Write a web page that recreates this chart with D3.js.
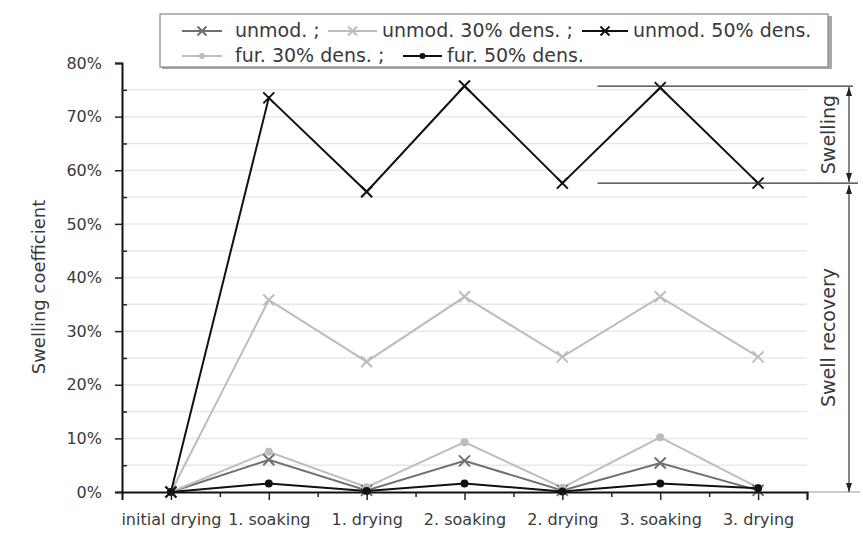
<!DOCTYPE html>
<html><head><meta charset="utf-8">
<script src="https://cdn.jsdelivr.net/npm/d3@7/dist/d3.min.js"></script>
<style>
html,body{margin:0;padding:0;background:#fff;}
svg{display:block;font-family:"DejaVu Sans",sans-serif;}
</style></head>
<body><svg id="c" width="863" height="535"></svg>
<script>
const categories = ["initial drying","1. soaking","1. drying","2. soaking","2. drying","3. soaking","3. drying"];
const yTicks = [0,0.1,0.2,0.3,0.4,0.5,0.6,0.7,0.8];
const unmod      = [0, 0.060, 0.003, 0.058, 0.003, 0.054, 0.003];
const unmod30    = [0, 0.358, 0.243, 0.364, 0.252, 0.364, 0.252];
const unmod50    = [0, 0.735, 0.560, 0.757, 0.576, 0.754, 0.576];
const fur30      = [0, 0.075, 0.009, 0.093, 0.008, 0.102, 0.008];
const fur50      = [0, 0.016, 0.002, 0.016, 0.001, 0.016, 0.007];
const seriesNames = ["unmod. ;","unmod. 30% dens. ;","unmod. 50% dens.","fur. 30% dens. ;","fur. 50% dens."];

const series = [
  {name:seriesNames[0], values:unmod,   color:"#707070", marker:"x"},
  {name:seriesNames[1], values:unmod30, color:"#bdbdbd", marker:"x"},
  {name:seriesNames[2], values:unmod50, color:"#111",    marker:"x"},
  {name:seriesNames[3], values:fur30,   color:"#bdbdbd", marker:"o"},
  {name:seriesNames[4], values:fur50,   color:"#111",    marker:"o"}
];

const svg = d3.select("#c");
const x = d3.scaleLinear().domain([-0.5, 6.5]).range([122, 807]);
const y = d3.scaleLinear().domain([0, 0.8]).range([492, 63]);

// gridlines
const gridVals = d3.range(1, 16).map(i => i*0.05);
svg.append("g").selectAll("line").data(gridVals).join("line")
  .attr("x1", x(-0.5)).attr("x2", x(6.5))
  .attr("y1", d => y(d)).attr("y2", d => y(d))
  .attr("stroke", "#e8e8e8").attr("stroke-width", 1.5);

// zero-line extension to the right
svg.append("line").attr("x1", x(6.5)).attr("x2", 860).attr("y1", y(0)).attr("y2", y(0))
  .attr("stroke", "#999").attr("stroke-width", 1);

// series lines
const line = d3.line().x((d,i) => x(i)).y(d => y(d));
series.forEach(s => {
  svg.append("path").datum(s.values).attr("d", line)
    .attr("fill","none").attr("stroke", s.color).attr("stroke-width", 2);
});
function drawMarker(g, type, cx, cy, color, size) {
  if (type === "x") {
    g.append("path").attr("d", `M${cx-size},${cy-size}L${cx+size},${cy+size}M${cx-size},${cy+size}L${cx+size},${cy-size}`)
      .attr("stroke", color).attr("stroke-width", 2).attr("fill","none");
  } else {
    g.append("circle").attr("cx", cx).attr("cy", cy).attr("r", size-1.5).attr("fill", color);
  }
}
const mg = svg.append("g");
series.forEach(s => {
  s.values.forEach((v,i) => drawMarker(mg, s.marker, x(i), y(v), s.color, 5.5));
});

// axes
svg.append("g").attr("transform", `translate(${x(-0.5)},0)`)
  .call(d3.axisLeft(y).tickValues(yTicks).tickFormat(d3.format(".0%")).tickSize(7).tickPadding(13))
  .selectAll(".tick text").attr("font-size", 16);
svg.append("g").attr("transform", `translate(${x(-0.5)},0)`)
  .call(d3.axisRight(y).tickValues(d3.range(0,8).map(i => i*0.1+0.05)).tickFormat("").tickSize(5))
  .select(".domain").remove();
svg.append("g").attr("transform", `translate(0,${y(0)})`)
  .call(d3.axisBottom(x).tickValues(d3.range(0,7)).tickFormat((d,i) => categories[i]).tickSize(8).tickPadding(14))
  .selectAll(".tick text").attr("font-size", 16);
svg.append("g").attr("transform", `translate(0,${y(0)})`)
  .call(d3.axisBottom(x).tickValues(d3.range(0,7).map(i => i+0.5)).tickFormat("").tickSize(5))
  .select(".domain").remove();
svg.selectAll(".domain").attr("stroke", "#111").attr("stroke-width", 2);
svg.selectAll(".tick line").attr("stroke", "#222").attr("stroke-width", 1.5);
svg.selectAll(".tick text").attr("fill", "#3a3a3a").attr("font-family", "DejaVu Sans, sans-serif");

// y title
svg.append("text").attr("transform", `translate(45,287) rotate(-90)`)
  .attr("text-anchor","middle").attr("font-size", 18).attr("fill","#3a3a3a").text("Swelling coefficient");

// right annotation
const topV = d3.max(unmod50), botV = unmod50[6];
const ann = svg.append("g").attr("stroke", "#333").attr("stroke-width", 1.2);
ann.append("line").attr("x1", x(4.36)).attr("x2", 853).attr("y1", y(topV)).attr("y2", y(topV));
ann.append("line").attr("x1", x(4.36)).attr("x2", 858).attr("y1", y(botV)).attr("y2", y(botV));
const ax = 849;
function vArrow(y1, y2) {
  svg.append("line").attr("x1", ax).attr("x2", ax).attr("y1", y1).attr("y2", y2).attr("stroke","#333").attr("stroke-width",1.2);
  svg.append("path").attr("d", `M${ax},${y1}L${ax-3},${y1+9}L${ax+3},${y1+9}Z`).attr("fill","#222");
  svg.append("path").attr("d", `M${ax},${y2}L${ax-3},${y2-9}L${ax+3},${y2-9}Z`).attr("fill","#222");
}
vArrow(y(topV)+1, y(botV)-1);
vArrow(y(botV)+2, y(0));
svg.append("text").attr("transform", `translate(835,${(y(topV)+y(botV))/2}) rotate(-90)`)
  .attr("text-anchor","middle").attr("font-size", 19).attr("fill","#3a3a3a").text("Swelling");
svg.append("text").attr("transform", `translate(835,${(y(botV)+y(0))/2}) rotate(-90)`)
  .attr("text-anchor","middle").attr("font-size", 19).attr("fill","#3a3a3a").text("Swell recovery");

// legend
const lg = svg.append("g");
lg.append("rect").attr("x",162).attr("y",16).attr("width",670).attr("height",53).attr("fill","#aaa");
lg.append("rect").attr("x",160).attr("y",14).attr("width",668).attr("height",53)
  .attr("fill","#fff").attr("stroke","#888").attr("stroke-width",1.2);
// [lineStart, lineEnd, textX, baseline]
const legPos = [[182,222,235,37],[328,377,382,37],[582,628,633,37],[182,222,235,62],[403,442,447,62]];
series.forEach((s,i) => {
  const [l1, l2, tx, by] = legPos[i];
  const ly = by - 6;
  lg.append("line").attr("x1", l1).attr("x2", l2).attr("y1", ly).attr("y2", ly)
    .attr("stroke", s.color).attr("stroke-width", 2);
  drawMarker(lg, s.marker, (l1+l2)/2, ly, s.color, 4.5);
  lg.append("text").attr("x", tx).attr("y", by).attr("font-size", 19).attr("fill","#3a3a3a").text(s.name);
});
</script></body></html>
